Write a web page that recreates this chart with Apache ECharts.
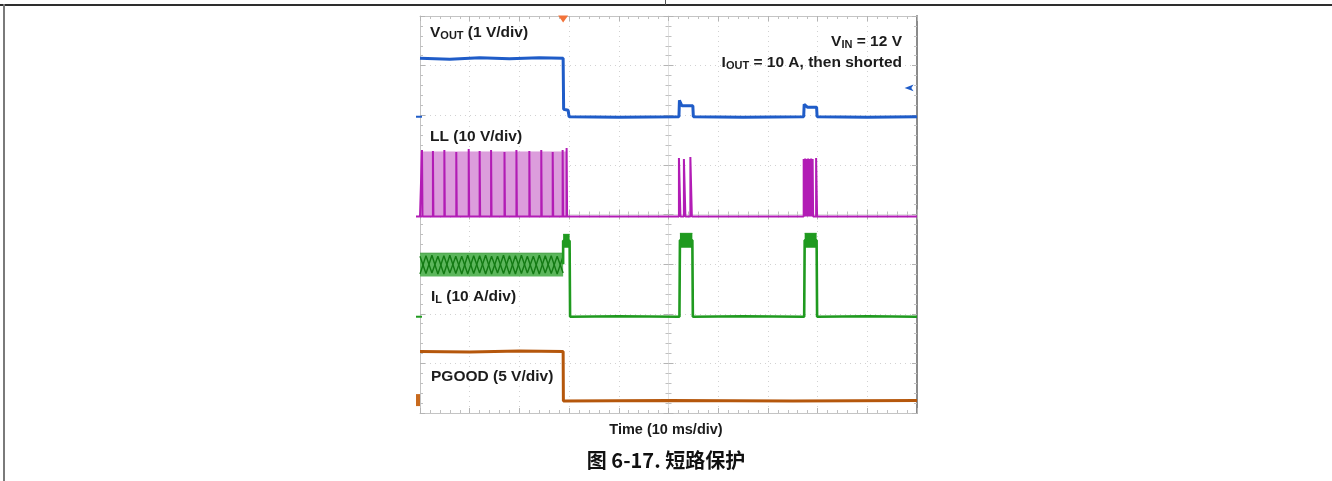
<!DOCTYPE html>
<html>
<head>
<meta charset="utf-8">
<script src="https://cdn.jsdelivr.net/npm/echarts@6/dist/echarts.min.js"></script>
<style>
  html, body { margin: 0; padding: 0; background: #ffffff; }
  #wrap { position: relative; width: 1332px; height: 481px; overflow: hidden; background: #fff; }
  #chart { position: absolute; left: 0; top: 0; width: 1332px; height: 481px; }
  .frame-top { position: absolute; left: 0; top: 4px; width: 1332px; height: 2px; background: #2e2e2e; }
  .frame-left { position: absolute; left: 3px; top: 4px; width: 2px; height: 477px; background: #7a7a7a; }
  .frame-tick { position: absolute; left: 665px; top: 0; width: 1px; height: 5px; background: #555; }
</style>
</head>
<body>
<div id="wrap">
  <div id="chart"></div>
  <div class="frame-top"></div>
  <div class="frame-left"></div>
  <div class="frame-tick"></div>
</div>
<script>
// ---- Data (x: time in ms, 10 ms/div; y: screen divisions from bottom, 0..8) ----
const timeRange = [0, 100];
const divRange = [0, 8];

const voutTrace = [[0,7.15],[6,7.13],[12,7.16],[18,7.14],[24,7.16],[28.8,7.15],[28.9,6.12],[29.8,6.10],[30.0,5.97],
  [40,5.96],[52.1,5.97],[52.2,6.30],[52.7,6.19],[54.9,6.19],[55.0,5.97],[65,5.96],[77.2,5.97],[77.3,6.22],
  [78.0,6.16],[79.8,6.16],[79.9,5.97],[90,5.96],[100,5.97]];

const llBaseline = 3.96;
const llSwitchEnvelope = [[0,5.26],[29.6,5.26]];
// [start ms, end ms, top div]
const llPulses = [[0.4,0.5,5.30],[2.6,2.7,5.28],[4.9,5.0,5.30],[7.3,7.4,5.26],[9.8,9.9,5.32],[12.0,12.1,5.28],
  [14.3,14.4,5.30],[17.0,17.1,5.26],[19.4,19.5,5.30],[22.0,22.1,5.28],[24.4,24.5,5.30],[26.7,26.8,5.26],
  [28.7,28.8,5.30],[29.5,29.6,5.34],
  [52.1,52.4,5.14],[53.1,53.4,5.12],[54.4,54.7,5.16],
  [77.2,77.3,5.12],[77.5,77.6,5.13],[77.8,77.9,5.12],[78.1,78.2,5.13],[78.4,78.5,5.12],[78.7,78.8,5.13],
  [79.0,79.1,5.12],[79.7,79.9,5.14]];

const ilBandLow = 2.75;
const ilBand = [[0,3.22],[28.8,3.22]];
const ilRippleA = [[0,2.80],[1.2,3.17],[2.4,2.82],[3.6,3.16],[4.8,2.80],[6.0,3.18],[7.2,2.81],[8.4,3.16],
  [9.6,2.80],[10.8,3.17],[12.0,2.82],[13.2,3.18],[14.4,2.80],[15.6,3.16],[16.8,2.81],[18.0,3.17],[19.2,2.80],
  [20.4,3.18],[21.6,2.82],[22.8,3.16],[24.0,2.80],[25.2,3.17],[26.4,2.81],[27.6,3.16],[28.8,2.82]];
const ilRippleB = [[0,3.16],[1.2,2.81],[2.4,3.18],[3.6,2.80],[4.8,3.17],[6.0,2.82],[7.2,3.16],[8.4,2.80],
  [9.6,3.18],[10.8,2.81],[12.0,3.17],[13.2,2.80],[14.4,3.16],[15.6,2.82],[16.8,3.18],[18.0,2.80],[19.2,3.17],
  [20.4,2.81],[21.6,3.16],[22.8,2.80],[24.0,3.18],[25.2,2.82],[26.4,3.17],[27.6,2.80],[28.8,3.16]];
const ilTrace = [[28.8,3.0],[28.8,3.47],[30.1,3.47],[30.2,1.94],[40,1.95],[52.2,1.94],[52.3,3.48],[54.8,3.48],
  [54.9,1.94],[65,1.95],[77.3,1.94],[77.4,3.48],[79.8,3.48],[79.9,1.94],[90,1.95],[100,1.94]];
const ilPeakLow = 3.33;
const ilPeaks = [[28.8,3.60],[30.1,3.60],[30.1,'-'],[52.3,3.62],[54.8,3.62],[54.8,'-'],[77.4,3.62],[79.8,3.62]];

const pgoodTrace = [[0,1.24],[10,1.23],[20,1.25],[28.8,1.24],[28.85,0.24],[50,0.25],[75,0.24],[100,0.25]];

const markerLevels = { vout: 5.97, ll: 3.96, il: 1.94, pgood: 0.26 };
const triggerTime = 28.8;
const triggerLevel = [97.5, 6.55];

// ---- Chart ----
const FONT = '"Liberation Sans", Arial, sans-serif';
const TXT = '#1c1c1c';

function pulsesToLine(pulses, base, start, end) {
  const out = [[start, base]];
  pulses.forEach(p => { out.push([p[0], base], [p[0], p[2]], [p[1], p[2]], [p[1], base]); });
  out.push([end, base]);
  return out;
}

const chart = echarts.init(document.getElementById('chart'), null, { renderer: 'canvas' });

const gridBox = { left: 420, top: 16, width: 497, height: 397 };
const axisBase = {
  min: timeRange[0], max: timeRange[1], interval: 10, type: 'value',
  axisLabel: { show: false },
  axisLine: { show: true, onZero: false, lineStyle: { color: '#c4c4c4', width: 1 } },
  axisTick: { show: true, inside: true, length: 5, lineStyle: { color: '#b4b4b4' } },
  minorTick: { show: true, splitNumber: 5, length: 3, lineStyle: { color: '#c0c0c0' } },
  splitLine: { show: false }
};
const yBase = Object.assign({}, axisBase, { min: divRange[0], max: divRange[1], interval: 1 });

const option = {
  animation: false,
  backgroundColor: 'transparent',
  grid: gridBox,
  xAxis: [
    Object.assign({}, axisBase, { position: 'bottom',
      splitLine: { show: true, lineStyle: { type: [1, 4], color: '#d2d2d2', width: 1 } } }),
    Object.assign({}, axisBase, { position: 'top' }),
    Object.assign({}, axisBase, { position: 'bottom', offset: -198.5,
      axisLine: { show: true, onZero: false, lineStyle: { color: '#e2e2e2' } } }),
    Object.assign({}, axisBase, { position: 'top', offset: -198.5,
      axisLine: { show: false, onZero: false } })
  ],
  yAxis: [
    Object.assign({}, yBase, { position: 'left',
      splitLine: { show: true, lineStyle: { type: [1, 4], color: '#d2d2d2', width: 1 } } }),
    Object.assign({}, yBase, { position: 'right',
      axisLine: { show: true, onZero: false, lineStyle: { color: '#8a8a8a', width: 2 } } }),
    Object.assign({}, yBase, { position: 'left', offset: -248.5,
      axisLine: { show: true, onZero: false, lineStyle: { color: '#e2e2e2' } } }),
    Object.assign({}, yBase, { position: 'right', offset: -248.5,
      axisLine: { show: false, onZero: false } })
  ],
  series: [
    { name: 'LL envelope', type: 'line', data: llSwitchEnvelope, symbol: 'none',
      lineStyle: { color: '#dc9ddc', width: 1 },
      areaStyle: { color: '#dc9ddc', opacity: 1, origin: llBaseline }, z: 2 },
    { name: 'LL', type: 'line', data: pulsesToLine(llPulses, llBaseline, 0, 100), symbol: 'none',
      lineStyle: { color: '#b21cb5', width: 2 }, z: 3,
      markPoint: { symbol: 'rect', symbolSize: [6, 2], symbolOffset: [-1, 0], silent: true, label: { show: false },
        itemStyle: { color: '#b21cb5' }, data: [{ coord: [0, markerLevels.ll] }] } },
    { name: 'IL band', type: 'line', data: ilBand, symbol: 'none',
      lineStyle: { color: '#3e9e3e', width: 1 },
      areaStyle: { color: '#5cb65c', opacity: 1, origin: ilBandLow }, z: 2 },
    { name: 'IL ripple A', type: 'line', data: ilRippleA, symbol: 'none',
      lineStyle: { color: '#137a13', width: 1.4 }, z: 3 },
    { name: 'IL ripple B', type: 'line', data: ilRippleB, symbol: 'none',
      lineStyle: { color: '#137a13', width: 1.4 }, z: 3 },
    { name: 'IL peaks', type: 'line', data: ilPeaks, symbol: 'none',
      lineStyle: { color: '#1f9a1f', width: 1 },
      areaStyle: { color: '#1f9a1f', opacity: 1, origin: ilPeakLow }, z: 3 },
    { name: 'IL', type: 'line', data: ilTrace, symbol: 'none',
      lineStyle: { color: '#1f9a1f', width: 2.6 }, z: 4,
      markPoint: { symbol: 'rect', symbolSize: [6, 2], symbolOffset: [-1, 0], silent: true, label: { show: false },
        itemStyle: { color: '#1f9a1f' }, data: [{ coord: [0, markerLevels.il] }] } },
    { name: 'VOUT', type: 'line', data: voutTrace, symbol: 'none',
      lineStyle: { color: '#1f5cc8', width: 3 }, z: 4,
      markPoint: { silent: true, label: { show: false },
        data: [
          { coord: [0, markerLevels.vout], symbol: 'rect', symbolSize: [6, 2], symbolOffset: [-1, 0], itemStyle: { color: '#1f5cc8' } },
          { coord: [triggerTime, divRange[1]], symbol: 'triangle', symbolRotate: 180, symbolSize: [10, 7], symbolOffset: [0, 3], itemStyle: { color: '#f2733a' } },
          { coord: triggerLevel, symbol: 'arrow', symbolRotate: 90, symbolSize: [5, 9], itemStyle: { color: '#1f5cc8' } }
        ] } },
    { name: 'PGOOD', type: 'line', data: pgoodTrace, symbol: 'none',
      lineStyle: { color: '#b5570c', width: 3 }, z: 4,
      markPoint: { symbol: 'rect', symbolSize: [4, 12], symbolOffset: [-2, 0], silent: true, label: { show: false },
        itemStyle: { color: '#c86a1e' }, data: [{ coord: [0, markerLevels.pgood] }] } }
  ],
  graphic: [
    { type: 'text', z: 100, style: { x: 430, y: 33, verticalAlign: 'middle', text: '{b|V}{s|OUT}{b| (1 V/div)}',
      rich: { b: { fontSize: 15.5, fontWeight: 'bold', fill: TXT, fontFamily: FONT, verticalAlign: 'bottom' },
              s: { fontSize: 11, fontWeight: 'bold', fill: TXT, fontFamily: FONT, verticalAlign: 'bottom' } } } },
    { type: 'text', z: 100, style: { x: 902, y: 42, align: 'right', verticalAlign: 'middle', text: '{b|V}{s|IN}{b| = 12 V}',
      rich: { b: { fontSize: 15.5, fontWeight: 'bold', fill: TXT, fontFamily: FONT, verticalAlign: 'bottom' },
              s: { fontSize: 11, fontWeight: 'bold', fill: TXT, fontFamily: FONT, verticalAlign: 'bottom' } } } },
    { type: 'text', z: 100, style: { x: 902, y: 63, align: 'right', verticalAlign: 'middle', text: '{b|I}{s|OUT}{b| = 10 A, then shorted}',
      rich: { b: { fontSize: 15.5, fontWeight: 'bold', fill: TXT, fontFamily: FONT, verticalAlign: 'bottom' },
              s: { fontSize: 11, fontWeight: 'bold', fill: TXT, fontFamily: FONT, verticalAlign: 'bottom' } } } },
    { type: 'text', z: 100, style: { x: 430, y: 137, verticalAlign: 'middle', text: 'LL (10 V/div)',
      font: 'bold 15.5px ' + FONT, fill: TXT } },
    { type: 'text', z: 100, style: { x: 431, y: 297, verticalAlign: 'middle', text: '{b|I}{s|L}{b| (10 A/div)}',
      rich: { b: { fontSize: 15.5, fontWeight: 'bold', fill: TXT, fontFamily: FONT, verticalAlign: 'bottom' },
              s: { fontSize: 11, fontWeight: 'bold', fill: TXT, fontFamily: FONT, verticalAlign: 'bottom' } } } },
    { type: 'text', z: 100, style: { x: 431, y: 377, verticalAlign: 'middle', text: 'PGOOD (5 V/div)',
      font: 'bold 15.5px ' + FONT, fill: TXT } },
    { type: 'text', z: 100, style: { x: 666, y: 430, align: 'center', verticalAlign: 'middle', text: 'Time (10 ms/div)',
      font: 'bold 14.5px ' + FONT, fill: TXT } },
    { type: 'text', z: 100, style: { x: 666, y: 460, align: 'center', verticalAlign: 'middle', text: '图 6-17. 短路保护',
      font: 'bold 20px "Noto Sans CJK SC", "Liberation Sans", sans-serif', fill: '#111' } }
  ]
};
chart.setOption(option);
</script>
</body>
</html>
